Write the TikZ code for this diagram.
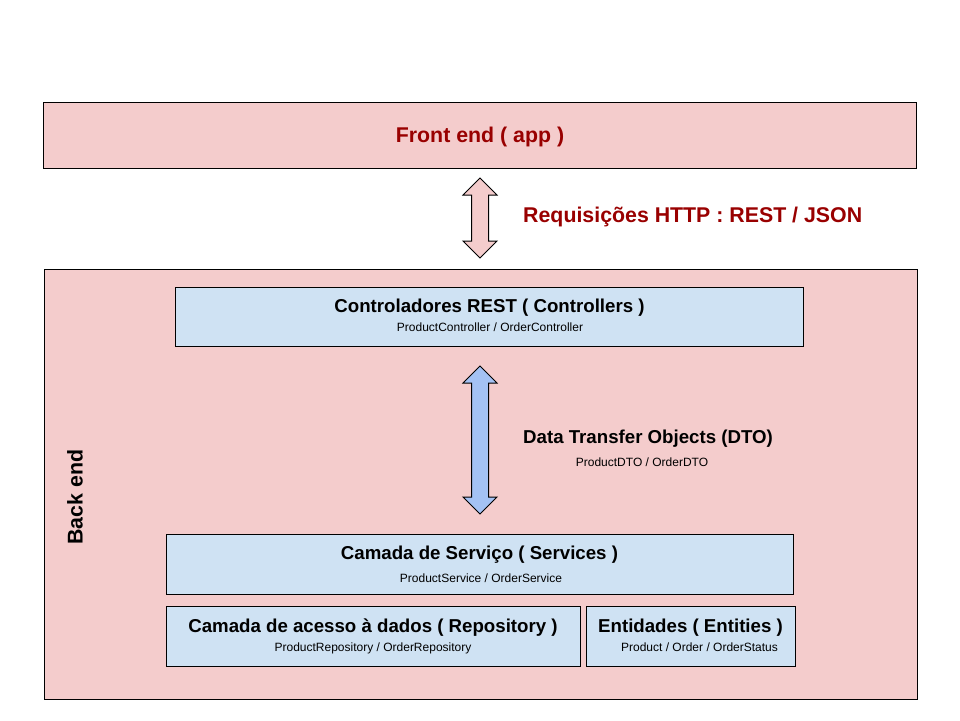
\documentclass[tikz,border=0pt]{standalone}
\usepackage{fontspec}
\setmainfont{Liberation Sans}
\definecolor{pinkfill}{HTML}{F4CCCC}
\definecolor{bluefill}{HTML}{CFE2F3}
\definecolor{arrowblue}{HTML}{A4C2F4}
\definecolor{darkred}{HTML}{990000}
\tikzset{
  box/.style={draw=black, line width=1pt, rectangle, inner sep=0pt},
  pinkbox/.style={box, fill=pinkfill},
  bluebox/.style={box, fill=bluefill},
  ttl/.style={font=\fontsize{18.67}{20}\selectfont\bfseries, anchor=base, inner sep=0pt},
  bigttl/.style={font=\fontsize{21.33}{24}\selectfont\bfseries, inner sep=0pt},
  sub/.style={font=\fontsize{12}{14}\selectfont, anchor=base, inner sep=0pt},
  arrowshape/.style={draw=black, line width=1pt, line join=miter}
}
% double arrow: #1 = centre, #2 = half length, #3 = fill colour
\newcommand{\mydblarrow}[3]{%
  \begin{scope}[shift={#1}]
    \draw[arrowshape, fill=#3] (0,-#2) -- (17,-#2+17) -- (8.5,-#2+17) -- (8.5,#2-17)
      -- (17,#2-17) -- (0,#2) -- (-17,#2-17) -- (-8.5,#2-17) -- (-8.5,-#2+17)
      -- (-17,-#2+17) -- cycle;
  \end{scope}}
\begin{document}
\begin{tikzpicture}[x=1pt,y=-1pt]
\useasboundingbox (0,0) rectangle (960,720);
% Front end
\node[pinkbox, minimum width=873pt, minimum height=66pt] (front) at (479.5,135) {};
\node[bigttl, text=darkred, anchor=base] (fronttxt) at (480,142.6) {Front end ( app )};
% HTTP arrow
\coordinate (http) at (480,218);
\mydblarrow{(http)}{40}{pinkfill}
\node[bigttl, text=darkred, anchor=base west] (httptxt) at (523,222.6) {Requisições HTTP : REST / JSON};
% Back end
\node[pinkbox, minimum width=873pt, minimum height=430pt] (back) at (480.5,484) {};
\node[bigttl, rotate=90] (backtxt) at (75,497) {Back end};
% Controllers
\node[bluebox, minimum width=628pt, minimum height=59pt] (ctrl) at (489,316.5) {};
\node[ttl] (ctrlt) at (489.5,312.5) {Controladores REST ( Controllers )};
\node[sub] (ctrls) at (490,331) {ProductController / OrderController};
% DTO arrow
\coordinate (dto) at (480,440);
\mydblarrow{(dto)}{74}{arrowblue}
\node[ttl, anchor=base west] (dtot) at (523,443.7) {Data Transfer Objects (DTO)};
\node[sub] (dtos) at (642,466.3) {ProductDTO / OrderDTO};
% Services
\node[bluebox, minimum width=627pt, minimum height=60pt] (serv) at (479.5,564) {};
\node[ttl] (servt) at (479.5,559.7) {Camada de Serviço ( Services )};
\node[sub] (servs) at (481,582.3) {ProductService / OrderService};
% Repository
\node[bluebox, minimum width=414pt, minimum height=60pt] (repo) at (373,636) {};
\node[ttl] (repot) at (373,632.7) {Camada de acesso à dados ( Repository )};
\node[sub] (repos) at (373,651.3) {ProductRepository / OrderRepository};
% Entities
\node[bluebox, minimum width=209pt, minimum height=60pt] (ent) at (690.5,636) {};
\node[ttl] (entt) at (690.5,632.7) {Entidades ( Entities )};
\node[sub] (ents) at (699.5,651.3) {Product / Order / OrderStatus};
\end{tikzpicture}
\end{document}
